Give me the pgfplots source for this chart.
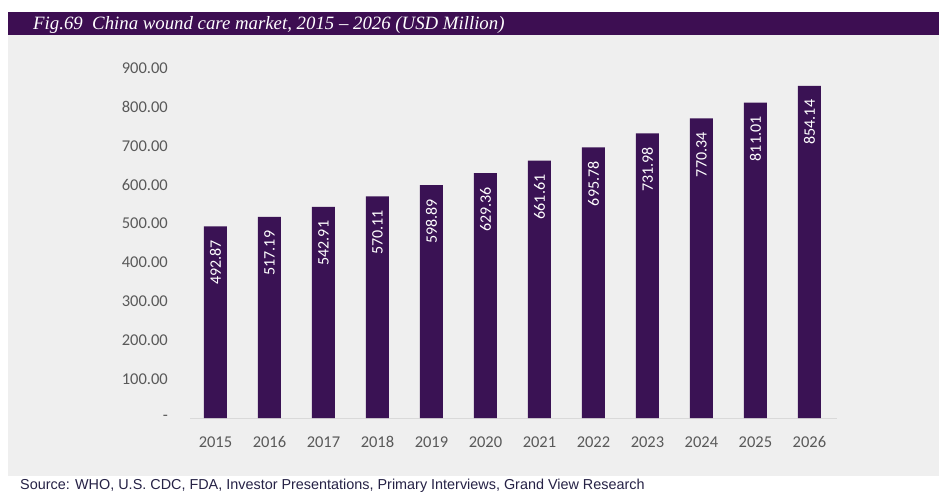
\documentclass[border=0pt]{standalone}
\usepackage{pgfplots}
\pgfplotsset{compat=1.18}
\usepackage{fontspec}
\setmainfont{Carlito}
\newfontfamily\titlefont{Liberation Serif}
\newfontfamily\srcfont{Liberation Sans}
\definecolor{barc}{RGB}{58,18,84}
\definecolor{titlec}{RGB}{61,14,82}
\definecolor{bgc}{RGB}{239,239,239}
\definecolor{tickc}{RGB}{89,89,89}
\definecolor{srcc}{RGB}{38,34,70}
\definecolor{axc}{RGB}{217,217,217}
\begin{document}
\begin{tikzpicture}
\useasboundingbox (0pt,0pt) rectangle (939pt,493pt);
\fill[white] (0pt,0pt) rectangle (939pt,493pt);
\fill[titlec] (8pt,481pt) rectangle (939pt,458pt);
\fill[bgc] (8pt,458pt) rectangle (939pt,17pt);
\node[anchor=base west, inner sep=0pt, text=white] at (33pt,463.5pt)
  {\titlefont\itshape\fontsize{18.8}{20}\selectfont Fig.69\ \ China wound care market, 2015 – 2026 (USD Million)};
\node[anchor=base west, inner sep=0pt, text=srcc] at (20pt,3.5pt)
  {\srcfont\fontsize{14.4}{16}\selectfont Source: WHO, U.S. CDC, FDA, Investor Presentations, Primary Interviews, Grand View Research};
\begin{axis}[
  at={(190pt,75pt)}, anchor=south west,
  scale only axis, width=647pt, height=350pt,
  xmin=-0.472, xmax=11.51, ymin=0, ymax=900,
  enlargelimits=false, clip=false,
  axis x line*=bottom, axis y line*=left,
  x axis line style={draw=axc, line width=1pt, -},
  y axis line style={draw=none},
  xtick={0,...,11},
  xticklabels={2015,2016,2017,2018,2019,2020,2021,2022,2023,2024,2025,2026},
  major tick length=0pt,
  ytick={0,100,...,900},
  yticklabels={-\hspace{8pt},100.00,200.00,300.00,400.00,500.00,600.00,700.00,800.00,900.00},
  /pgf/number format/assume math mode=true,
  ticklabel style={font=\fontsize{16.5}{18}\selectfont, text=tickc},
  xticklabel style={anchor=center, inner sep=0pt, yshift=-24pt},
  yticklabel style={anchor=east, inner sep=0pt, xshift=-22pt},
]
\addplot[ybar, bar width=23pt, fill=barc, draw=none,
  point meta=explicit symbolic,
  nodes near coords,
  every node near coord/.append style={rotate=90, anchor=east, inner sep=0pt, outer xsep=14pt, text=white, font=\fontsize{16}{18}\selectfont}]
  table[meta=label] {
x y label
0 492.87 492.87
1 517.19 517.19
2 542.91 542.91
3 570.11 570.11
4 598.89 598.89
5 629.36 629.36
6 661.61 661.61
7 695.78 695.78
8 731.98 731.98
9 770.34 770.34
10 811.01 811.01
11 854.14 854.14
};
\end{axis}
\end{tikzpicture}
\end{document}
